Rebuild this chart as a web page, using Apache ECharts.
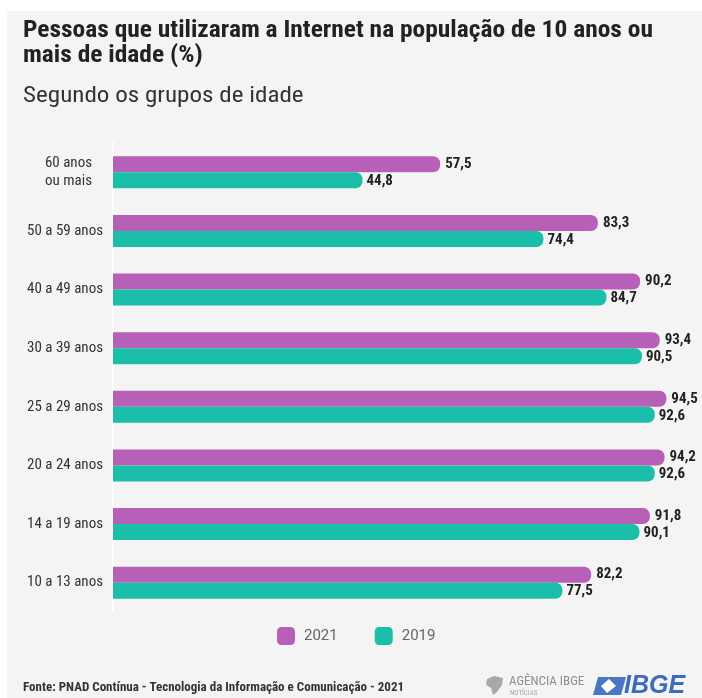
<!DOCTYPE html>
<html>
<head>
<meta charset="utf-8">
<script src="https://cdn.jsdelivr.net/npm/echarts@6/dist/echarts.min.js"></script>
<style>
html,body{margin:0;padding:0;background:#ffffff;}
#chart{width:702px;height:698px;}
</style>
</head>
<body>
<div id="chart"></div>
<script>
const categories = ['60 anos\nou mais', '50 a 59 anos', '40 a 49 anos', '30 a 39 anos', '25 a 29 anos', '20 a 24 anos', '14 a 19 anos', '10 a 13 anos'];
const values2021 = [57.5, 83.3, 90.2, 93.4, 94.5, 94.2, 91.8, 82.2];
const values2019 = [44.8, 74.4, 84.7, 90.5, 92.6, 92.6, 90.1, 77.5];
const seriesNames = ['2021', '2019'];
const titleText = 'Pessoas que utilizaram a Internet na população de 10 anos ou\nmais de idade (%)';
const subtitleText = 'Segundo os grupos de idade';
const sourceText = 'Fonte: PNAD Contínua - Tecnologia da Informação e Comunicação - 2021';

const COND = '"Roboto Condensed", "Open Sans Condensed", sans-serif';
const PURPLE = '#b660b8';
const TEAL = '#1bbfa9';

const chart = echarts.init(document.getElementById('chart'), null, {renderer: 'canvas'});

const fmt = p => String(p.value).replace('.', ',');

chart.setOption({
  backgroundColor: '#ffffff',
  animation: false,
  graphic: [
    {type: 'rect', z: -10, silent: true, shape: {x: 7, y: 11, width: 695, height: 687}, style: {fill: '#f4f4f4'}},
    {type: 'text', x: 23, y: 18, scaleX: 1.06, style: {text: titleText, font: 'bold 24px ' + COND, lineHeight: 25, fill: '#222222', verticalAlign: 'top'}},
    {type: 'text', x: 23, y: 85, scaleX: 1.14, style: {text: subtitleText, font: '22px ' + COND, fill: '#333333', verticalAlign: 'top'}},
    {type: 'text', x: 23, y: 688, style: {text: sourceText, font: 'bold 13px ' + COND, fill: '#333333', verticalAlign: 'middle'}},
    {type: 'polygon', shape: {points: [[487,679],[494,676],[503,678],[502,685],[497,692],[493,695],[491,688],[486,685]]}, style: {fill: '#a8a8a8'}},
    {type: 'text', x: 509, y: 682, style: {text: 'AGÊNCIA IBGE', font: '13px ' + COND, fill: '#8f8f8f', verticalAlign: 'middle'}},
    {type: 'text', x: 510, y: 693, style: {text: 'NOTÍCIAS', font: '7px ' + COND, fill: '#a8a8a8', verticalAlign: 'middle'}},
    {type: 'polygon', shape: {points: [[598,677],[626,677],[621,695],[593,695]]}, style: {fill: '#4a76c4'}},
    {type: 'polygon', shape: {points: [[609,679],[616,686],[607,693],[601,686]]}, style: {fill: '#ffffff'}},
    {type: 'text', x: 624, y: 686, style: {text: 'IBGE', font: 'italic bold 25px "Liberation Sans", Arial, sans-serif', fill: '#3d6bbd', verticalAlign: 'middle'}}
  ],
  legend: {
    data: seriesNames,
    top: 627, left: 277, padding: 0,
    icon: 'roundRect',
    itemWidth: 18, itemHeight: 18,
    itemGap: 37,
    textStyle: {fontFamily: 'Roboto, sans-serif', fontSize: 15, color: '#666666', padding: [0, 0, 0, 4]}
  },
  grid: {left: 113, right: 2, top: 143, height: 469, containLabel: false},
  xAxis: {
    type: 'value', min: 4, max: 100,
    show: false
  },
  yAxis: {
    type: 'category', data: categories, inverse: true,
    axisLine: {show: true, lineStyle: {color: '#ffffff', width: 2}},
    axisTick: {show: false},
    axisLabel: {
      margin: 10,
      fontFamily: COND, fontSize: 15, color: '#333333', lineHeight: 18,
      formatter: v => v.indexOf('\n') >= 0 ? v.split('\n').map(s => '{m|' + s + '}').join('\n') : v,
      rich: {m: {fontFamily: COND, fontSize: 15, color: '#333333', lineHeight: 18, padding: [0, 11, 0, 0]}}
    }
  },
  series: [
    {
      name: seriesNames[0], type: 'bar', data: values2021,
      barWidth: 16, barGap: '0%',
      itemStyle: {color: PURPLE, borderRadius: [0, 7, 7, 0]},
      label: {show: true, position: 'right', distance: 5, formatter: fmt, fontFamily: COND, fontWeight: 'bold', fontSize: 15, color: '#222222'}
    },
    {
      name: seriesNames[1], type: 'bar', data: values2019,
      barWidth: 16, barGap: '0%',
      itemStyle: {color: TEAL, borderRadius: [0, 7, 7, 0]},
      label: {show: true, position: 'right', distance: 4, offset: [0, 1], formatter: fmt, fontFamily: COND, fontWeight: 'bold', fontSize: 15, color: '#222222'}
    }
  ]
});
</script>
</body>
</html>
